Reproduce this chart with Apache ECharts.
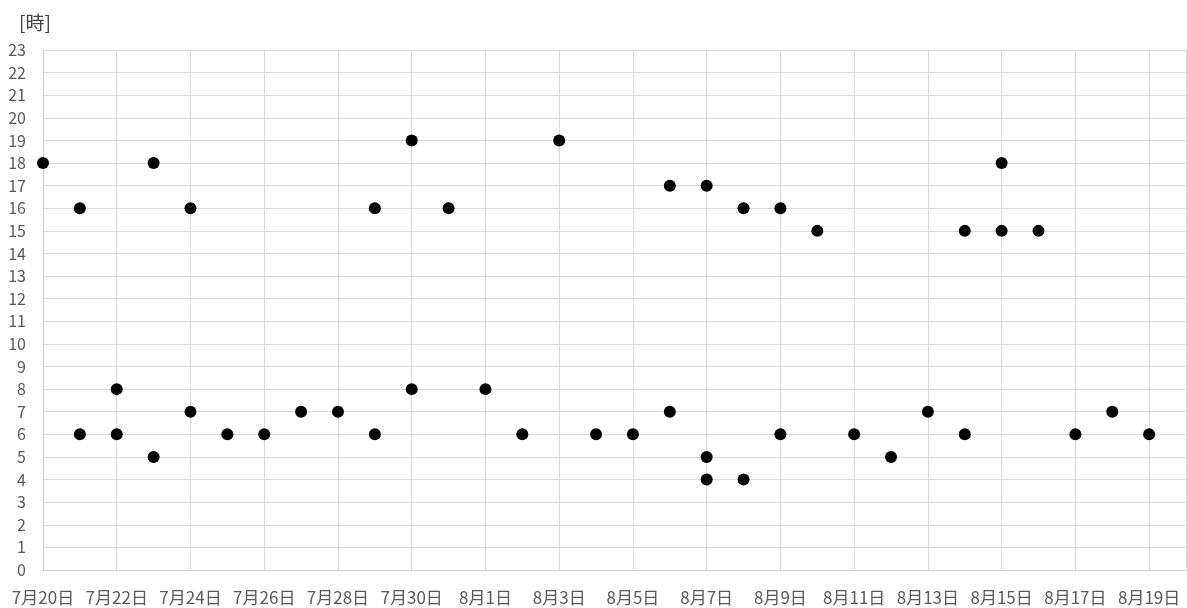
<!DOCTYPE html>
<html><head><meta charset="utf-8">
<script src="https://cdn.jsdelivr.net/npm/echarts@6/dist/echarts.min.js"></script>
<style>html,body{margin:0;padding:0;background:#fff}#c{width:1187px;height:608px}</style>
</head><body><div id="c"></div>
<script>
// Day offsets from 7月20日 and hour values
const startMonth = 7, startDay = 20;
const dayOffsets = [0, 1, 1, 2, 2, 3, 3, 4, 4, 5, 6, 7, 8, 9, 9, 10, 10, 11, 12, 13, 14, 15, 16, 17, 17, 18, 18, 18, 19, 19, 20, 20, 21, 22, 23, 24, 25, 25, 26, 26, 27, 28, 29, 30];
const hours      = [18,16, 6, 8, 6,18, 5,16, 7, 6, 6, 7, 7,16, 6,19, 8,16, 8, 6,19, 6, 6,17, 7,17, 5, 4,16, 4,16, 6,15, 6, 5, 7,15, 6,18,15,15, 6, 7, 6];
const yTicks = {min: 0, max: 23, interval: 1};
const xTicks = {min: 0, max: 31, interval: 2};
const axisTitle = '[時]';

function dayLabel(v) {
  const d = new Date(2020, startMonth - 1, startDay + v);
  return (d.getMonth() + 1) + '月' + d.getDate() + '日';
}
const points = dayOffsets.map((d, i) => [d, hours[i]]);
const font = '"Noto Sans CJK JP", "Noto Sans", sans-serif';
const chart = echarts.init(document.getElementById('c'));
chart.setOption({
  animation: false,
  grid: {left: 43, right: 1, top: 50, bottom: 38, containLabel: false},
  title: {text: axisTitle, left: 14, top: 8, textStyle: {fontSize: 19, fontWeight: 'normal', color: '#404040', fontFamily: font}},
  xAxis: {
    type: 'value', min: xTicks.min, max: xTicks.max, interval: xTicks.interval,
    axisLine: {show: true, lineStyle: {color: '#d0d0d0', width: 1}},
    axisTick: {show: false},
    splitLine: {show: true, lineStyle: {color: '#d9d9d9', width: 1}},
    axisLabel: {showMaxLabel: false, margin: 19, color: '#595959', fontSize: 17, fontFamily: font, formatter: v => (v % 2 === 0 ? dayLabel(v) : '')}
  },
  yAxis: {
    type: 'value', min: yTicks.min, max: yTicks.max, interval: yTicks.interval,
    axisLine: {show: true, lineStyle: {color: '#d0d0d0', width: 1}},
    axisTick: {show: false},
    splitLine: {show: true, lineStyle: {color: '#d9d9d9', width: 1}},
    axisLabel: {margin: 17, color: '#595959', fontSize: 16, fontFamily: font}
  },
  series: [{
    type: 'scatter', data: points, symbol: 'circle', symbolSize: 12,
    itemStyle: {color: '#000', opacity: 1}
  }]
});
</script></body></html>
